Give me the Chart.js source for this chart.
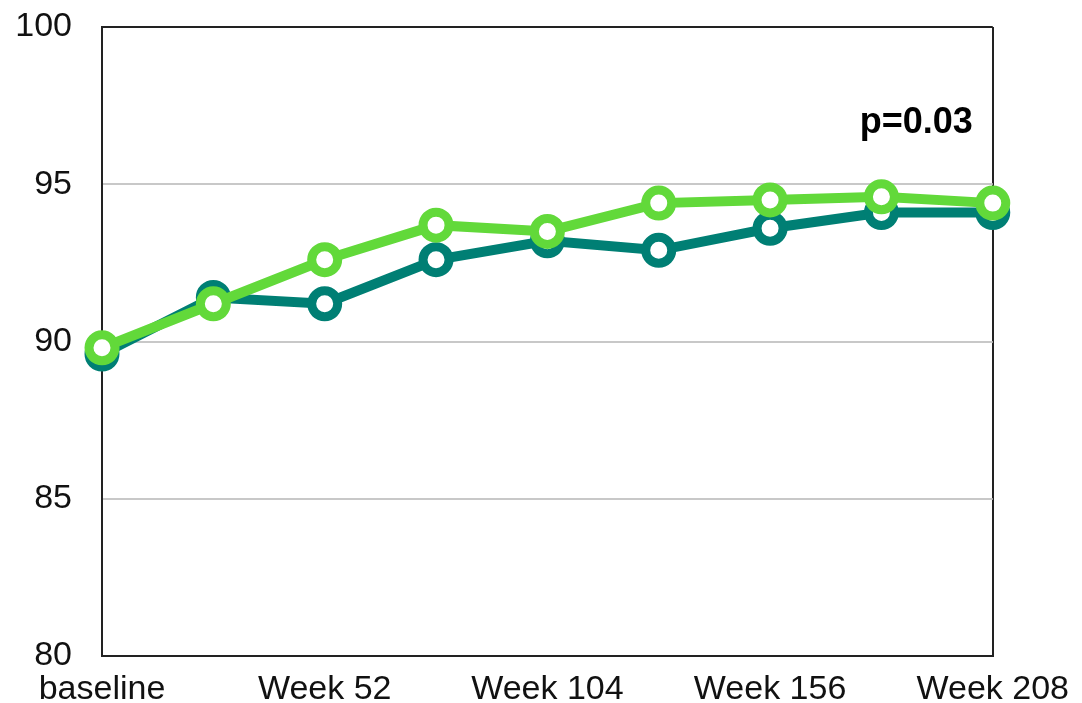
<!DOCTYPE html>
<html lang="en">
<head>
  <meta charset="UTF-8">
  <title>Week chart</title>
  <script src="https://cdn.jsdelivr.net/npm/chart.js"></script>
  <style>
    body { margin: 0; background: #fff; }
    #wrap { width: 1082px; height: 703px; }
  </style>
</head>
<body>
<div id="wrap"><canvas id="grafico"></canvas></div>

<script>
  // datos
  const semanas = ['baseline', 'Week 26', 'Week 52', 'Week 78', 'Week 104', 'Week 130', 'Week 156', 'Week 182', 'Week 208'];
  const etiquetasX = ['baseline', '', 'Week 52', '', 'Week 104', '', 'Week 156', '', 'Week 208'];
  const serieVerde = [89.8, 91.2, 92.6, 93.7, 93.5, 94.4, 94.5, 94.6, 94.4];
  const serieOscura = [89.6, 91.4, 91.2, 92.6, 93.2, 92.9, 93.6, 94.1, 94.1];
  const textoP = 'p=0.03';
  const valorP = 96.95;

  const verde = '#62d93a';
  const oscuro = '#007f74';
  const fuente = "'Liberation Sans', Arial, sans-serif";

  const anotacionP = {
    id: 'anotacionP',
    afterDatasetsDraw(chart) {
      const ctx = chart.ctx;
      const x = chart.scales.x.getPixelForValue(semanas.length - 1) - 20;
      const y = chart.scales.y.getPixelForValue(valorP);
      ctx.save();
      ctx.font = 'bold 36px ' + fuente;
      ctx.fillStyle = '#000';
      ctx.textAlign = 'right';
      ctx.textBaseline = 'middle';
      ctx.fillText(textoP, x, y);
      ctx.restore();
    }
  };

  new Chart(document.getElementById('grafico'), {
    type: 'line',
    data: {
      labels: semanas,
      datasets: [
        {
          data: serieVerde,
          borderColor: verde,
          borderWidth: 10,
          pointRadius: 13,
          pointBorderWidth: 9,
          pointBackgroundColor: '#fff',
          pointBorderColor: verde,
          tension: 0
        },
        {
          data: serieOscura,
          borderColor: oscuro,
          borderWidth: 10,
          pointRadius: 13,
          pointBorderWidth: 9,
          pointBackgroundColor: '#fff',
          pointBorderColor: oscuro,
          tension: 0
        }
      ]
    },
    options: {
      responsive: true,
      maintainAspectRatio: false,
      animation: false,
      layout: { padding: { top: 27, right: 89, left: 0, bottom: 0 } },
      plugins: { legend: { display: false }, tooltip: { enabled: false } },
      scales: {
        x: {
          offset: false,
          afterFit: s => { s.height = 47; },
          grid: {
            drawTicks: false,
            lineWidth: 2,
            color: c => (c.index === 0 || c.index === semanas.length - 1) ? '#222' : 'rgba(0,0,0,0)'
          },
          border: { display: true, color: '#222', width: 2 },
          ticks: {
            autoSkip: false,
            maxRotation: 0,
            padding: 13,
            color: '#111',
            font: { size: 34, family: fuente },
            callback: (v, i) => etiquetasX[i]
          }
        },
        y: {
          min: 80,
          max: 100,
          afterFit: s => { s.width = 102; },
          grid: {
            drawTicks: true,
            tickLength: 30,
            tickColor: 'rgba(0,0,0,0)',
            lineWidth: 2,
            color: c => (c.tick.value === 80 || c.tick.value === 100) ? '#222' : '#c8c8c8'
          },
          border: { display: true, color: '#222', width: 2 },
          ticks: {
            stepSize: 5,
            padding: 0,
            color: '#111',
            font: { size: 34, family: fuente, lineHeight: 0.3 }
          }
        }
      }
    },
    plugins: [anotacionP]
  });
</script>
</body>
</html>
